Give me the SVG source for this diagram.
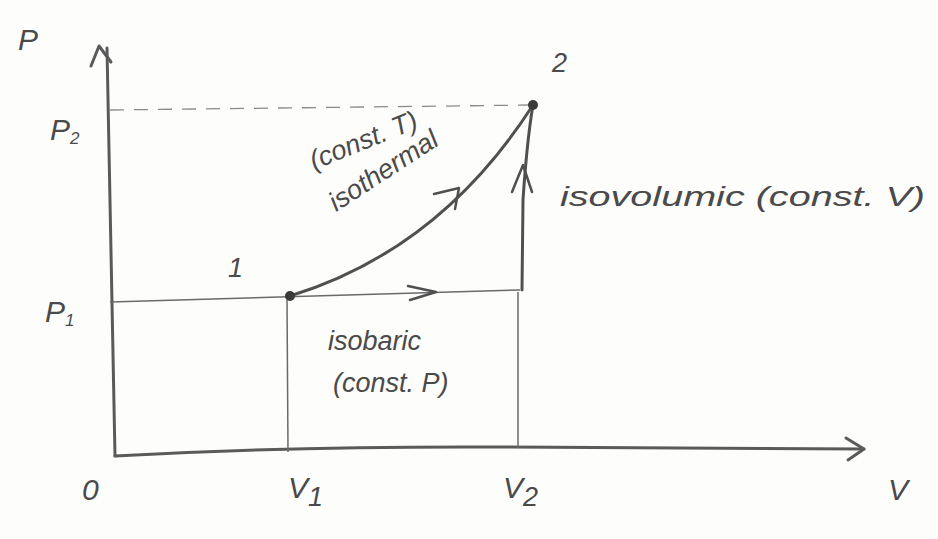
<svg xmlns="http://www.w3.org/2000/svg" width="938" height="539" viewBox="0 0 938 539">
<style>
.ax{fill:none;stroke:#5a5a5a;stroke-width:3;stroke-linecap:round;stroke-linejoin:round}
.thin{fill:none;stroke:#6a6a6a;stroke-width:1.5}
.dash{fill:none;stroke:#8a8a8a;stroke-width:1.3;stroke-dasharray:14 10}
.pr{fill:none;stroke:#505050;stroke-width:3;stroke-linecap:round}
.ah{fill:none;stroke:#505050;stroke-width:2.5;stroke-linecap:round;stroke-linejoin:round}
text{font-family:"Liberation Sans",Arial,sans-serif;fill:#4a4a4a;font-style:italic}
.lg{font-size:30px}
.md{font-size:27px}
.sm{font-size:17px}
</style>
<rect width="938" height="539" fill="#fdfdfc"/>
<g id="connectors">
<path class="ax" d="M115 456 L107 48"/>
<path class="ax" d="M91 66 L99 46 L111 62"/>
<path class="ax" d="M115 456 Q300 446 500 447 L864 449"/>
<path class="ax" d="M846 438 L864 449 L848 460"/>
<path class="dash" d="M110 110 L533 105"/>
<path class="thin" d="M110 302 L520 290"/>
<path class="thin" d="M287 300 L288 452"/>
<path class="thin" d="M518 292 L518 448"/>
<path class="ah" d="M408 286 L436 292 L410 300"/>
<path id="isothermal" class="pr" d="M290 296 Q440 250 533 105"/>
<path class="ah" d="M434 194 L459 188 L455 209"/>
<path id="isovolumic" class="pr" d="M522 290 L523 200 Q527 140 533 105"/>
<path class="ah" d="M512 192 L523 165 L532 192"/>
</g>
<g id="n1"><circle cx="290" cy="296" r="5" fill="#3a3a3a"/><text class="md" x="228" y="277">1</text></g>
<g id="n2"><circle cx="533" cy="105" r="5" fill="#3a3a3a"/><text class="md" x="552" y="72">2</text></g>
<g id="labels">
<text class="lg" x="18" y="50">P</text>
<text class="lg" x="50" y="140">P<tspan class="sm" dy="4">2</tspan></text>
<text class="lg" x="45" y="322">P<tspan class="sm" dy="4">1</tspan></text>
<text class="lg" x="82" y="500">0</text>
<text class="lg" x="288" y="498">V<tspan class="md" dy="8">1</tspan></text>
<text class="lg" x="503" y="498">V<tspan class="md" dy="8">2</tspan></text>
<text class="lg" x="888" y="500" font-size="36">V</text>
<text class="md" transform="translate(314 170) rotate(-22)">(const. T)</text>
<text class="md" transform="translate(336 212) rotate(-33)">isothermal</text>
<text class="md" x="560" y="206" font-size="30" textLength="365" lengthAdjust="spacingAndGlyphs">isovolumic (const. V)</text>
<text class="md" x="328" y="350">isobaric</text>
<text class="md" x="333" y="392">(const. P)</text>
</g>
</svg>
